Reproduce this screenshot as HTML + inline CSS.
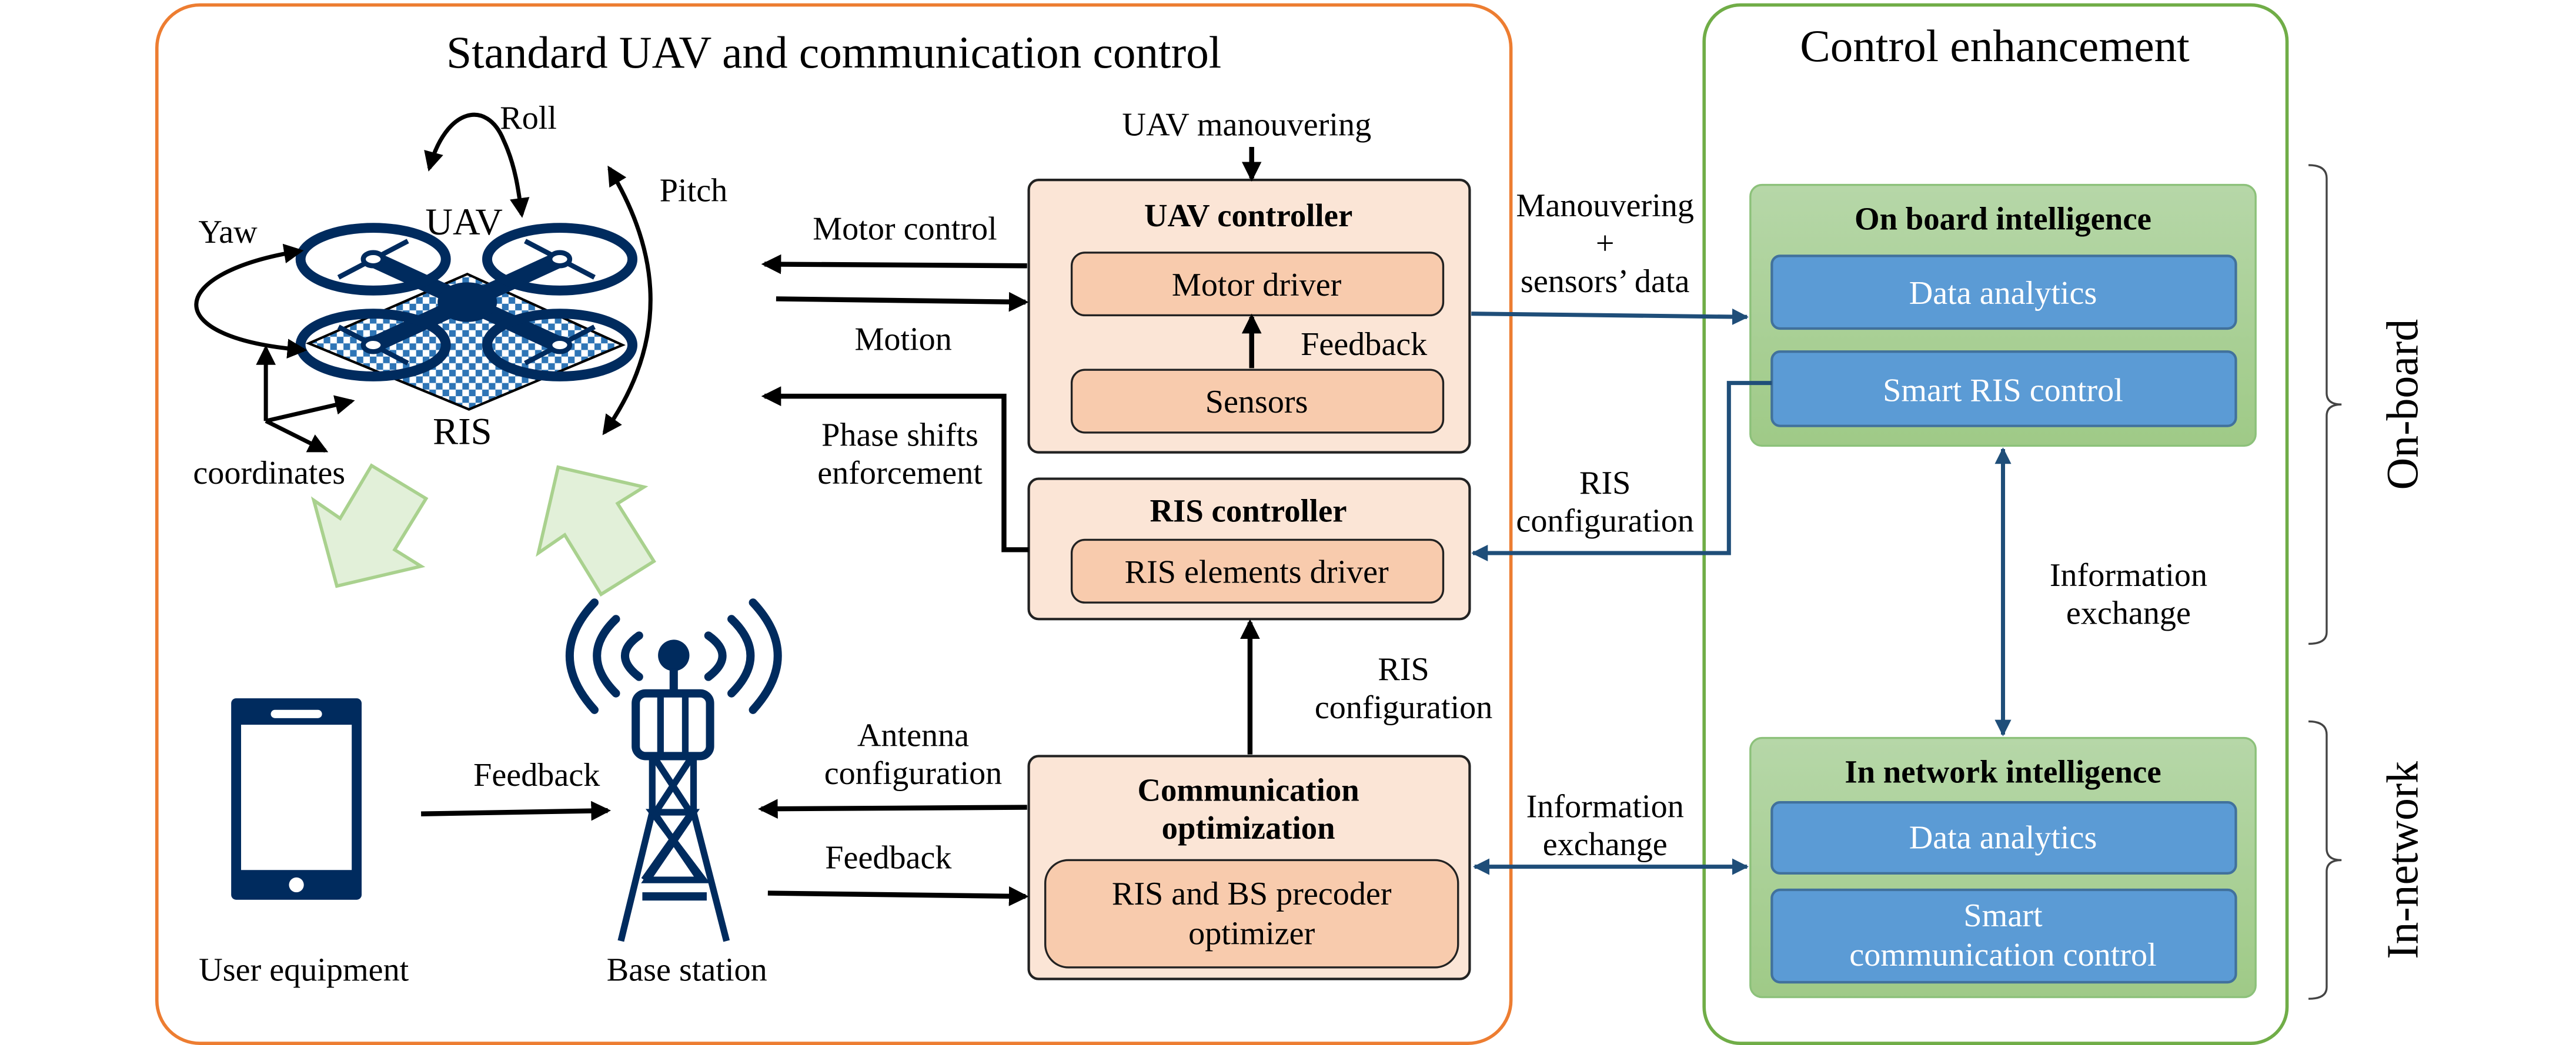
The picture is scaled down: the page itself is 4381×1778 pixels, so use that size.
<!DOCTYPE html>
<html><head><meta charset="utf-8"><style>
html,body{margin:0;padding:0;background:#fff;}
svg{display:block;}
text{font-family:"Liberation Serif",serif;}
</style></head><body>
<svg width="4381" height="1778" viewBox="0 0 1560 633" preserveAspectRatio="none" xmlns="http://www.w3.org/2000/svg">
<defs>
<marker id="ab" markerUnits="userSpaceOnUse" markerWidth="12" markerHeight="12" viewBox="0 0 12 12" refX="10" refY="6" orient="auto-start-reverse"><path d="M0,0 L12,6 L0,12 z" fill="#000"/></marker>
<marker id="au" markerUnits="userSpaceOnUse" markerWidth="10" markerHeight="10" viewBox="0 0 10 10" refX="9" refY="5" orient="auto-start-reverse"><path d="M0,0 L10,5 L0,10 z" fill="#1F4E79"/></marker>
<pattern id="chk" width="8" height="8" patternUnits="userSpaceOnUse"><rect width="8" height="8" fill="#fff"/><rect width="4" height="4" fill="#2E75B6"/><rect x="4" y="4" width="4" height="4" fill="#2E75B6"/></pattern>
<linearGradient id="gg" x1="0" y1="0" x2="0" y2="1"><stop offset="0" stop-color="#B6D7A8"/><stop offset="1" stop-color="#9FCA87"/></linearGradient>
</defs>

<rect x="95" y="3" width="820" height="629" rx="26" fill="none" stroke="#ED7D31" stroke-width="2"/>
<rect x="1032" y="3" width="353" height="629" rx="22" fill="none" stroke="#70AD47" stroke-width="2"/>
<text x="505" y="41" font-size="27.5" text-anchor="middle">Standard UAV and communication control</text>
<text x="1208" y="37" font-size="27.5" text-anchor="middle">Control enhancement</text>

<polygon points="283,166 377,209 284,248 187,208" fill="url(#chk)" stroke="#000" stroke-width="1.5"/>
<g stroke="#002B5E" fill="none">
<line x1="226" y1="157" x2="339" y2="209" stroke-width="10"/>
<line x1="339" y1="157" x2="226" y2="209" stroke-width="10"/>
<ellipse cx="283" cy="183" rx="18" ry="12" fill="#002B5E" stroke="none"/>
<g stroke-width="6">
<ellipse cx="226" cy="157" rx="44" ry="19"/><ellipse cx="339" cy="157" rx="44" ry="19"/>
<ellipse cx="226" cy="209" rx="44" ry="19"/><ellipse cx="339" cy="209" rx="44" ry="19"/>
</g>
<g stroke-width="3">
<line x1="205" y1="168" x2="247" y2="146"/><line x1="318" y1="146" x2="360" y2="168"/>
<line x1="205" y1="198" x2="247" y2="220"/><line x1="318" y1="220" x2="360" y2="198"/>
</g>
<g stroke-width="3" fill="#fff">
<ellipse cx="226" cy="157" rx="6" ry="4"/><ellipse cx="339" cy="157" rx="6" ry="4"/>
<ellipse cx="226" cy="209" rx="6" ry="4"/><ellipse cx="339" cy="209" rx="6" ry="4"/>
</g>
</g>
<text x="281" y="142" font-size="23" text-anchor="middle">UAV</text>
<text x="280" y="269" font-size="23" text-anchor="middle">RIS</text>
<text x="320" y="78" font-size="20" text-anchor="middle">Roll</text>
<text x="420" y="122" font-size="20" text-anchor="middle">Pitch</text>
<text x="138" y="147" font-size="20" text-anchor="middle">Yaw</text>
<text x="163" y="293" font-size="20" text-anchor="middle">coordinates</text>
<g stroke="#000" stroke-width="2.5" fill="none">
<path d="M260 102 C 270 65, 295 60, 305 85 C 312 100, 314 115, 316 130" marker-start="url(#ab)" marker-end="url(#ab)"/>
<path d="M369 102 C 395 145, 410 200, 366 262" marker-start="url(#ab)" marker-end="url(#ab)"/>
<path d="M182 152 C 100 165, 95 205, 184 212" marker-start="url(#ab)" marker-end="url(#ab)"/>
<path d="M161 255 L161 211" marker-end="url(#ab)"/>
<path d="M161 255 L213 243" marker-end="url(#ab)"/>
<path d="M161 255 L197 273" marker-end="url(#ab)"/>
</g>

<polygon points="225,282 258,302 239,333 255,343 204,355 190,303 206,314" fill="#E2F0D9" stroke="#A9D18E" stroke-width="2"/>
<polygon points="338,283 390,295 374,305 396,340 364,360 342,324 326,335" fill="#E2F0D9" stroke="#A9D18E" stroke-width="2"/>

<rect x="140" y="423" width="79" height="122" rx="3" fill="#002B5E"/>
<rect x="146" y="439" width="67" height="88" fill="#fff"/>
<rect x="164" y="430" width="31" height="5" rx="2.5" fill="#fff"/>
<ellipse cx="179.5" cy="536" rx="4.5" ry="4.5" fill="#fff"/>
<text x="184" y="594" font-size="20" text-anchor="middle">User equipment</text>

<g fill="none" stroke="#002B5E" stroke-linecap="round" stroke-width="5">
<path d="M360 365 Q330 397 360 430"/><path d="M373 375 Q350 397 373 420"/><path d="M387 385 Q370 397 387 410"/>
<path d="M456 365 Q486 397 456 430"/><path d="M443 375 Q466 397 443 420"/><path d="M429 385 Q446 397 429 410"/>
</g>
<circle cx="408" cy="397" r="9.5" fill="#002B5E"/>
<line x1="408" y1="405" x2="408" y2="420" stroke="#002B5E" stroke-width="5"/>
<rect x="385" y="420" width="45" height="38" rx="6" fill="#fff" stroke="#002B5E" stroke-width="5"/>
<g stroke="#002B5E" stroke-width="4" fill="none">
<line x1="400" y1="420" x2="400" y2="458"/><line x1="415" y1="420" x2="415" y2="458"/>
<path d="M395 458 L395 492 L376 570"/><path d="M420 458 L420 492 L440 570"/>
<path d="M397 460 L418 492 M418 460 L397 492"/>
<path d="M395 492 L420 492 L392 533 L426 533 Z"/>
<path d="M396 492 L424 533 M419 492 L390 533"/>
<line x1="389" y1="543" x2="428" y2="543" stroke-width="5"/>
</g>
<text x="416" y="594" font-size="20" text-anchor="middle">Base station</text>
<line x1="255" y1="493" x2="368" y2="491" stroke="#000" stroke-width="3" marker-end="url(#ab)"/>
<text x="325" y="476" font-size="20" text-anchor="middle">Feedback</text>

<rect x="623" y="109" width="267" height="165" rx="6" fill="#FBE5D6" stroke="#222" stroke-width="1.5"/>
<text x="756" y="137" font-size="19.5" font-weight="bold" text-anchor="middle">UAV controller</text>
<rect x="649" y="153" width="225" height="38" rx="8" fill="#F8CBAD" stroke="#222" stroke-width="1.2"/>
<text x="761" y="179" font-size="20" text-anchor="middle">Motor driver</text>
<rect x="649" y="224" width="225" height="38" rx="8" fill="#F8CBAD" stroke="#222" stroke-width="1.2"/>
<text x="761" y="250" font-size="20" text-anchor="middle">Sensors</text>
<line x1="758" y1="223" x2="758" y2="192" stroke="#000" stroke-width="3" marker-end="url(#ab)"/>
<text x="826" y="215" font-size="20" text-anchor="middle">Feedback</text>
<text x="755" y="82" font-size="20" text-anchor="middle">UAV manouvering</text>
<line x1="758" y1="89" x2="758" y2="108" stroke="#000" stroke-width="3" marker-end="url(#ab)"/>

<rect x="623" y="290" width="267" height="85" rx="6" fill="#FBE5D6" stroke="#222" stroke-width="1.5"/>
<text x="756" y="316" font-size="19.5" font-weight="bold" text-anchor="middle">RIS controller</text>
<rect x="649" y="327" width="225" height="38" rx="8" fill="#F8CBAD" stroke="#222" stroke-width="1.2"/>
<text x="761" y="353" font-size="20" text-anchor="middle">RIS elements driver</text>

<rect x="623" y="458" width="267" height="135" rx="6" fill="#FBE5D6" stroke="#222" stroke-width="1.5"/>
<text x="756" y="485" font-size="19.5" font-weight="bold" text-anchor="middle">Communication</text>
<text x="756" y="508" font-size="19.5" font-weight="bold" text-anchor="middle">optimization</text>
<rect x="633" y="521" width="250" height="65" rx="14" fill="#F8CBAD" stroke="#222" stroke-width="1.2"/>
<text x="758" y="548" font-size="20" text-anchor="middle">RIS and BS precoder</text>
<text x="758" y="572" font-size="20" text-anchor="middle">optimizer</text>
<line x1="757" y1="457" x2="757" y2="377" stroke="#000" stroke-width="3" marker-end="url(#ab)"/>
<text x="850" y="412" font-size="20" text-anchor="middle">RIS</text>
<text x="850" y="435" font-size="20" text-anchor="middle">configuration</text>

<g stroke="#000" stroke-width="3" fill="none">
<line x1="622" y1="161" x2="463" y2="160" marker-end="url(#ab)"/>
<line x1="470" y1="181" x2="621" y2="183" marker-end="url(#ab)"/>
<path d="M623 333 L608 333 L608 240 L463 240" marker-end="url(#ab)"/>
<line x1="622" y1="489" x2="461" y2="490" marker-end="url(#ab)"/>
<line x1="465" y1="541" x2="621" y2="543" marker-end="url(#ab)"/>
</g>
<text x="548" y="145" font-size="20" text-anchor="middle">Motor control</text>
<text x="547" y="212" font-size="20" text-anchor="middle">Motion</text>
<text x="545" y="270" font-size="20" text-anchor="middle">Phase shifts</text>
<text x="545" y="293" font-size="20" text-anchor="middle">enforcement</text>
<text x="553" y="452" font-size="20" text-anchor="middle">Antenna</text>
<text x="553" y="475" font-size="20" text-anchor="middle">configuration</text>
<text x="538" y="526" font-size="20" text-anchor="middle">Feedback</text>

<rect x="1060" y="112" width="306" height="158" rx="7" fill="url(#gg)" stroke="#8CC17A" stroke-width="1.2"/>
<text x="1213" y="139" font-size="19.5" font-weight="bold" text-anchor="middle">On board intelligence</text>
<rect x="1073" y="155" width="281" height="44" rx="5" fill="#5B9BD5" stroke="#41719C" stroke-width="1.5"/>
<text x="1213" y="184" font-size="20" fill="#fff" text-anchor="middle">Data analytics</text>
<rect x="1073" y="213" width="281" height="45" rx="5" fill="#5B9BD5" stroke="#41719C" stroke-width="1.5"/>
<text x="1213" y="243" font-size="20" fill="#fff" text-anchor="middle">Smart RIS control</text>

<rect x="1060" y="447" width="306" height="157" rx="7" fill="url(#gg)" stroke="#8CC17A" stroke-width="1.2"/>
<text x="1213" y="474" font-size="19.5" font-weight="bold" text-anchor="middle">In network intelligence</text>
<rect x="1073" y="486" width="281" height="43" rx="5" fill="#5B9BD5" stroke="#41719C" stroke-width="1.5"/>
<text x="1213" y="514" font-size="20" fill="#fff" text-anchor="middle">Data analytics</text>
<rect x="1073" y="539" width="281" height="56" rx="5" fill="#5B9BD5" stroke="#41719C" stroke-width="1.5"/>
<text x="1213" y="561" font-size="20" fill="#fff" text-anchor="middle">Smart</text>
<text x="1213" y="585" font-size="20" fill="#fff" text-anchor="middle">communication control</text>

<g stroke="#1F4E79" stroke-width="2.5" fill="none">
<line x1="891" y1="190" x2="1058" y2="192" marker-end="url(#au)"/>
<path d="M1073 232 L1047 232 L1047 335 L892 335" marker-end="url(#au)"/>
<line x1="893" y1="525" x2="1058" y2="525" marker-start="url(#au)" marker-end="url(#au)"/>
<line x1="1213" y1="272" x2="1213" y2="445" marker-start="url(#au)" marker-end="url(#au)"/>
</g>
<text x="972" y="131" font-size="20" text-anchor="middle">Manouvering</text>
<text x="972" y="154" font-size="20" text-anchor="middle">+</text>
<text x="972" y="177" font-size="20" text-anchor="middle">sensors’ data</text>
<text x="972" y="299" font-size="20" text-anchor="middle">RIS</text>
<text x="972" y="322" font-size="20" text-anchor="middle">configuration</text>
<text x="972" y="495" font-size="20" text-anchor="middle">Information</text>
<text x="972" y="518" font-size="20" text-anchor="middle">exchange</text>
<text x="1289" y="355" font-size="20" text-anchor="middle">Information</text>
<text x="1289" y="378" font-size="20" text-anchor="middle">exchange</text>

<g stroke="#444" stroke-width="1.2" fill="none">
<path d="M1398 100 Q1409 100 1409 108 L1409 238 Q1409 245 1418 245 Q1409 245 1409 252 L1409 383 Q1409 390 1398 390"/>
<path d="M1398 437 Q1409 437 1409 445 L1409 514 Q1409 521 1418 521 Q1409 521 1409 528 L1409 598 Q1409 605 1398 605"/>
</g>
<text transform="translate(1464,245) rotate(-90)" font-size="27" text-anchor="middle">On-board</text>
<text transform="translate(1464,521) rotate(-90)" font-size="27" text-anchor="middle">In-network</text>
</svg>
</body></html>
